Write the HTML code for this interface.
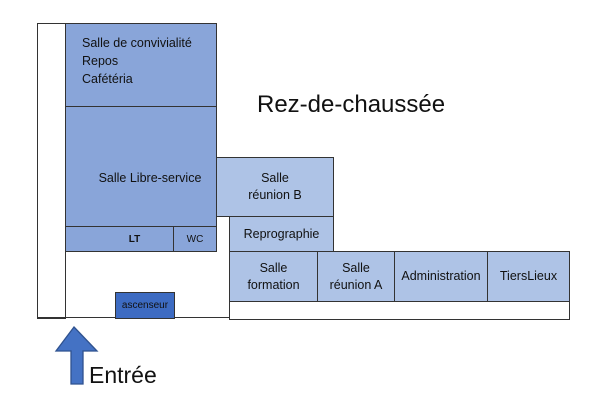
<!DOCTYPE html>
<html><head><meta charset="utf-8"><style>
body{margin:0;width:594px;height:414px;background:#fff;position:relative;overflow:hidden;font-family:"Liberation Sans",sans-serif;color:#111}
.b{position:absolute;box-sizing:border-box;border:1.3px solid #333}
.d{background:#89a5d9}
.l{background:#aec3e6}
.t{display:flex;align-items:center;justify-content:center;text-align:center;font-size:12.5px;line-height:17px}
</style></head><body>
<div class="b" style="left:37px;top:23px;width:29px;height:296px;background:#fff"></div>
<div class="b" style="left:37px;top:317px;width:193px;height:2px;border-width:1px 0 0 0"></div>
<div class="b d" style="left:65px;top:23px;width:152px;height:84px;padding:10px 0 0 16px;font-size:12.5px;line-height:18px">Salle de convivialité<br>Repos<br>Cafétéria</div>
<div class="b d t" style="left:65px;top:106px;width:152px;height:121px;padding-left:18px;padding-top:24px">Salle Libre-service</div>
<div class="b d t" style="left:65px;top:226px;width:109px;height:26px;font-size:10px;font-weight:bold;padding-left:30px">LT</div>
<div class="b d t" style="left:173px;top:226px;width:44px;height:26px;font-size:10px">WC</div>
<div class="b l t" style="left:216px;top:157px;width:118px;height:60px">Salle<br>réunion B</div>
<div class="b l t" style="left:229px;top:216px;width:105px;height:36px">Reprographie</div>
<div class="b l t" style="left:229px;top:251px;width:89px;height:51px">Salle<br>formation</div>
<div class="b l t" style="left:317px;top:251px;width:78px;height:51px">Salle<br>réunion A</div>
<div class="b l t" style="left:394px;top:251px;width:94px;height:51px">Administration</div>
<div class="b l t" style="left:487px;top:251px;width:83px;height:51px">TiersLieux</div>
<div class="b" style="left:229px;top:301px;width:341px;height:19px;background:#fff"></div>
<div class="b t" style="left:115px;top:292px;width:60px;height:27px;background:#3d6bc2;font-size:10px">ascenseur</div>
<div style="position:absolute;left:257px;top:91px;font-size:24px;color:#111">Rez-de-chaussée</div>
<svg style="position:absolute;left:0;top:0" width="594" height="414">
<polygon points="74,327 97,351 83,351 83,384 71,384 71,351 56,351" fill="#4472c4" stroke="#2f528f" stroke-width="1.3"/>
</svg>
<div style="position:absolute;left:89px;top:362px;font-size:23px;color:#111">Entrée</div>
</body></html>
